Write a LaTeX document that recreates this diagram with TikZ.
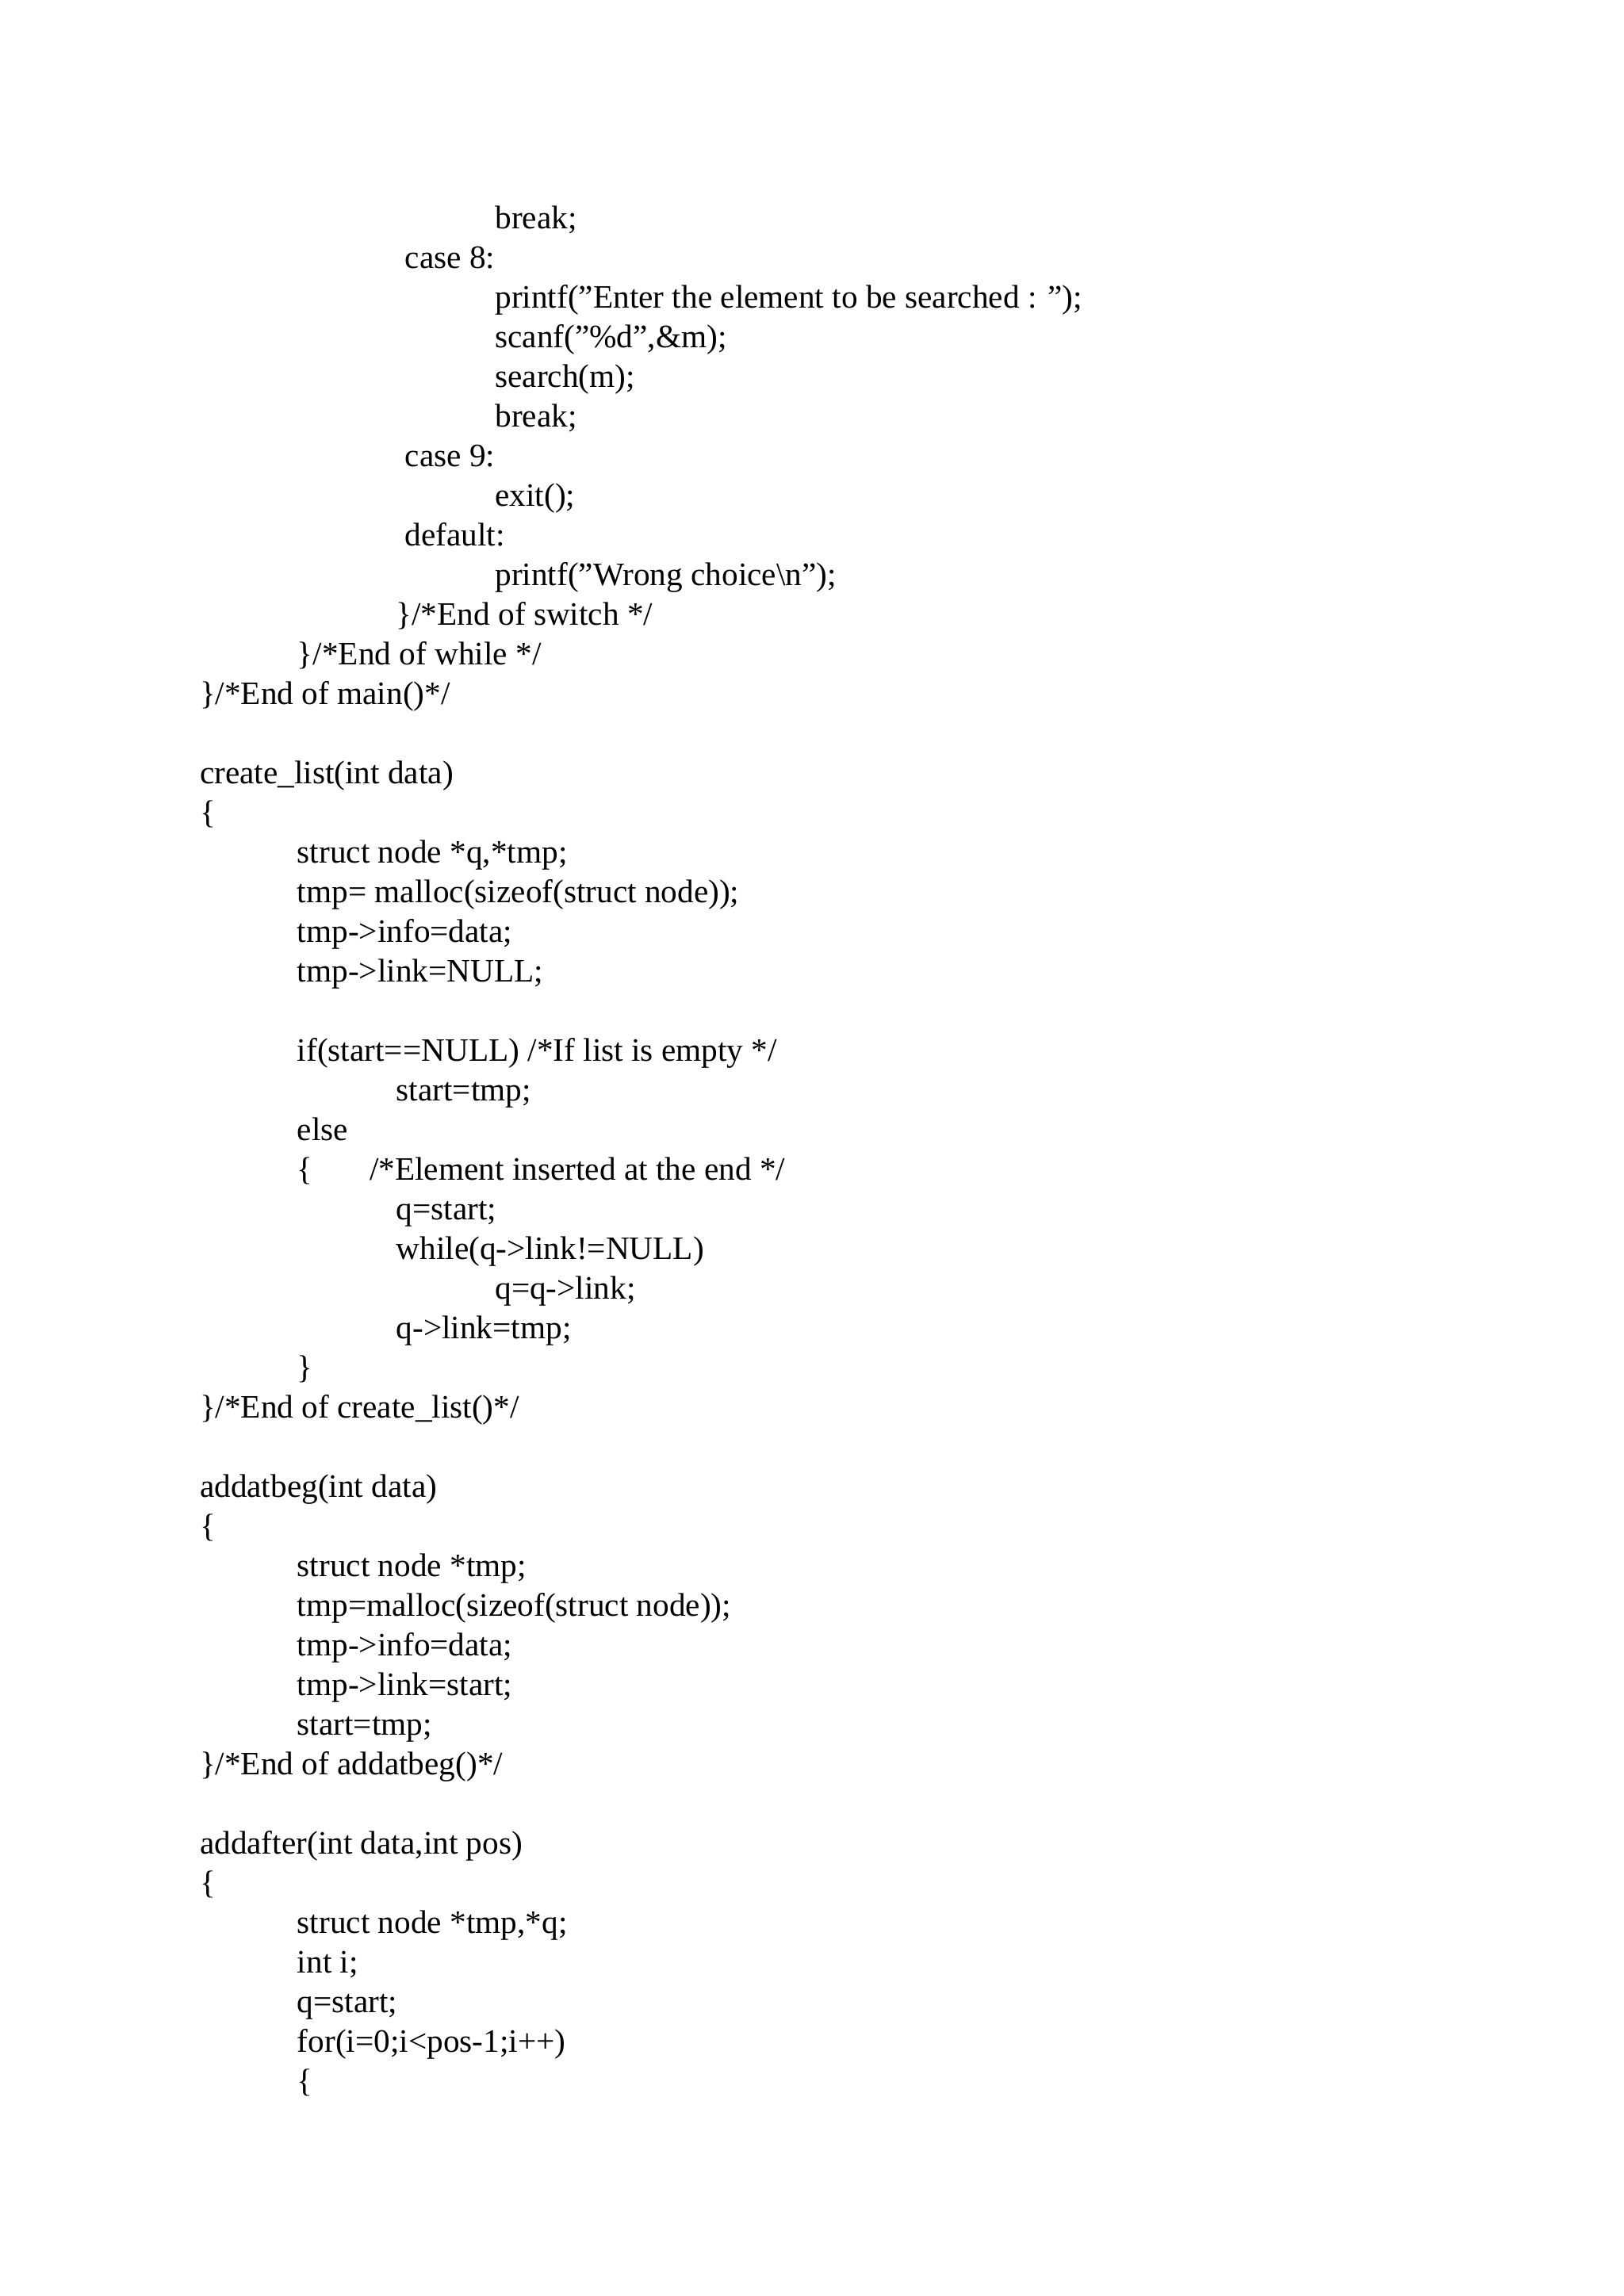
\documentclass[tikz,border=0pt]{standalone}
\usepackage{fontspec}
\setmainfont{Liberation Serif}
\begin{document}
\begin{tikzpicture}[x=0.5412pt,y=-0.5412pt,every node/.style={anchor=base west,inner sep=0pt,font=\fontsize{12}{14}\selectfont}]
\useasboundingbox (0,0) rectangle (1100,1555.5);
\newcommand\codeln[3]{\node (l#1) at (#2,{155+26.85*#1}) {#3};}
\codeln{0}{335}{break;}
\codeln{1}{274}{case 8:}
\codeln{2}{335}{printf("Enter the element to be searched : ");}
\codeln{3}{335}{scanf("\%d",\&m);}
\codeln{4}{335}{search(m);}
\codeln{5}{335}{break;}
\codeln{6}{274}{case 9:}
\codeln{7}{335}{exit();}
\codeln{8}{274}{default:}
\codeln{9}{335}{printf("Wrong choice\textbackslash n");}
\codeln{10}{268}{\}/*End of switch */}
\codeln{11}{201}{\}/*End of while */}
\codeln{12}{135}{\}/*End of main()*/}
\codeln{14}{135}{create\_list(int data)}
\codeln{15}{135}{\{}
\codeln{16}{201}{struct node *q,*tmp;}
\codeln{17}{201}{tmp= malloc(sizeof(struct node));}
\codeln{18}{201}{tmp->info=data;}
\codeln{19}{201}{tmp->link=NULL;}
\codeln{21}{201}{if(start==NULL) /*If list is empty */}
\codeln{22}{268}{start=tmp;}
\codeln{23}{201}{else}
\codeln{24}{201}{\{}
\node (l24b) at (250,{155+26.85*24}) {/*Element inserted at the end */};
\codeln{25}{268}{q=start;}
\codeln{26}{268}{while(q->link!=NULL)}
\codeln{27}{335}{q=q->link;}
\codeln{28}{268}{q->link=tmp;}
\codeln{29}{201}{\}}
\codeln{30}{135}{\}/*End of create\_list()*/}
\codeln{32}{135}{addatbeg(int data)}
\codeln{33}{135}{\{}
\codeln{34}{201}{struct node *tmp;}
\codeln{35}{201}{tmp=malloc(sizeof(struct node));}
\codeln{36}{201}{tmp->info=data;}
\codeln{37}{201}{tmp->link=start;}
\codeln{38}{201}{start=tmp;}
\codeln{39}{135}{\}/*End of addatbeg()*/}
\codeln{41}{135}{addafter(int data,int pos)}
\codeln{42}{135}{\{}
\codeln{43}{201}{struct node *tmp,*q;}
\codeln{44}{201}{int i;}
\codeln{45}{201}{q=start;}
\codeln{46}{201}{for(i=0;i<pos-1;i++)}
\codeln{47}{201}{\{}
\end{tikzpicture}
\end{document}
